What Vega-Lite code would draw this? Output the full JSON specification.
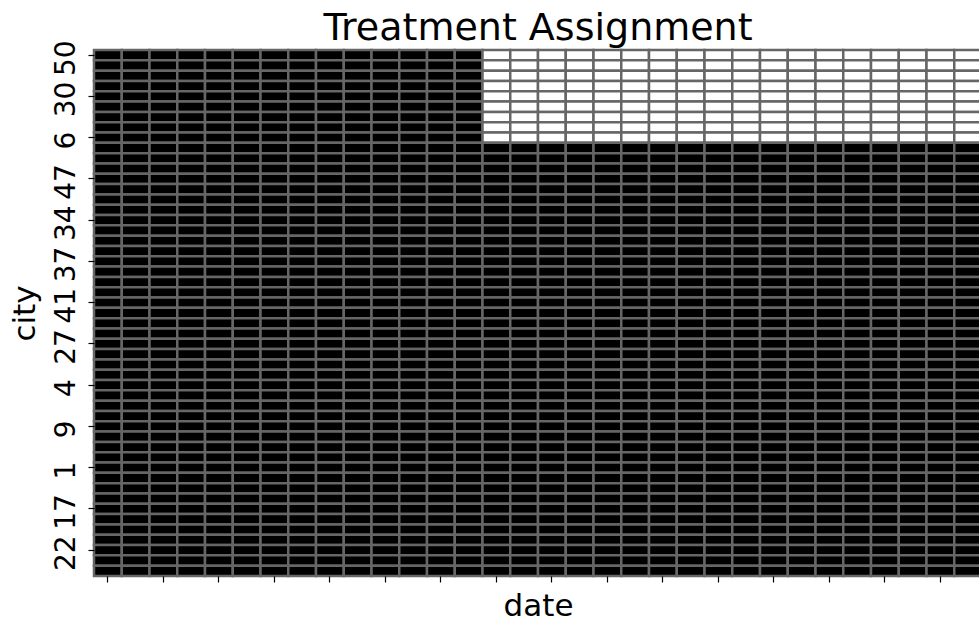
{"$schema":"https://vega.github.io/schema/vega-lite/v6.json","width":888,"height":526,"autosize":{"type":"none"},"padding":{"left":94,"top":50,"right":0,"bottom":45},"background":"white","config":{"view":{"stroke":null},"font":"DejaVu Sans"},"title":{"text":"Treatment Assignment","fontSize":38,"font":"DejaVu Sans","fontWeight":"normal","color":"#000000","anchor":"middle","frame":"group","baseline":"alphabetic","offset":-38},"data":{"values":[
{"city":50,"date":0,"treated":0},{"city":50,"date":1,"treated":0},{"city":50,"date":2,"treated":0},{"city":50,"date":3,"treated":0},{"city":50,"date":4,"treated":0},{"city":50,"date":5,"treated":0},{"city":50,"date":6,"treated":0},{"city":50,"date":7,"treated":0},{"city":50,"date":8,"treated":0},{"city":50,"date":9,"treated":0},{"city":50,"date":10,"treated":0},{"city":50,"date":11,"treated":0},{"city":50,"date":12,"treated":0},{"city":50,"date":13,"treated":0},{"city":50,"date":14,"treated":1},{"city":50,"date":15,"treated":1},{"city":50,"date":16,"treated":1},{"city":50,"date":17,"treated":1},{"city":50,"date":18,"treated":1},{"city":50,"date":19,"treated":1},{"city":50,"date":20,"treated":1},{"city":50,"date":21,"treated":1},{"city":50,"date":22,"treated":1},{"city":50,"date":23,"treated":1},{"city":50,"date":24,"treated":1},{"city":50,"date":25,"treated":1},{"city":50,"date":26,"treated":1},{"city":50,"date":27,"treated":1},{"city":50,"date":28,"treated":1},{"city":50,"date":29,"treated":1},{"city":50,"date":30,"treated":1},{"city":50,"date":31,"treated":1},
{"city":0,"date":0,"treated":0},{"city":0,"date":1,"treated":0},{"city":0,"date":2,"treated":0},{"city":0,"date":3,"treated":0},{"city":0,"date":4,"treated":0},{"city":0,"date":5,"treated":0},{"city":0,"date":6,"treated":0},{"city":0,"date":7,"treated":0},{"city":0,"date":8,"treated":0},{"city":0,"date":9,"treated":0},{"city":0,"date":10,"treated":0},{"city":0,"date":11,"treated":0},{"city":0,"date":12,"treated":0},{"city":0,"date":13,"treated":0},{"city":0,"date":14,"treated":1},{"city":0,"date":15,"treated":1},{"city":0,"date":16,"treated":1},{"city":0,"date":17,"treated":1},{"city":0,"date":18,"treated":1},{"city":0,"date":19,"treated":1},{"city":0,"date":20,"treated":1},{"city":0,"date":21,"treated":1},{"city":0,"date":22,"treated":1},{"city":0,"date":23,"treated":1},{"city":0,"date":24,"treated":1},{"city":0,"date":25,"treated":1},{"city":0,"date":26,"treated":1},{"city":0,"date":27,"treated":1},{"city":0,"date":28,"treated":1},{"city":0,"date":29,"treated":1},{"city":0,"date":30,"treated":1},{"city":0,"date":31,"treated":1},
{"city":2,"date":0,"treated":0},{"city":2,"date":1,"treated":0},{"city":2,"date":2,"treated":0},{"city":2,"date":3,"treated":0},{"city":2,"date":4,"treated":0},{"city":2,"date":5,"treated":0},{"city":2,"date":6,"treated":0},{"city":2,"date":7,"treated":0},{"city":2,"date":8,"treated":0},{"city":2,"date":9,"treated":0},{"city":2,"date":10,"treated":0},{"city":2,"date":11,"treated":0},{"city":2,"date":12,"treated":0},{"city":2,"date":13,"treated":0},{"city":2,"date":14,"treated":1},{"city":2,"date":15,"treated":1},{"city":2,"date":16,"treated":1},{"city":2,"date":17,"treated":1},{"city":2,"date":18,"treated":1},{"city":2,"date":19,"treated":1},{"city":2,"date":20,"treated":1},{"city":2,"date":21,"treated":1},{"city":2,"date":22,"treated":1},{"city":2,"date":23,"treated":1},{"city":2,"date":24,"treated":1},{"city":2,"date":25,"treated":1},{"city":2,"date":26,"treated":1},{"city":2,"date":27,"treated":1},{"city":2,"date":28,"treated":1},{"city":2,"date":29,"treated":1},{"city":2,"date":30,"treated":1},{"city":2,"date":31,"treated":1},
{"city":3,"date":0,"treated":0},{"city":3,"date":1,"treated":0},{"city":3,"date":2,"treated":0},{"city":3,"date":3,"treated":0},{"city":3,"date":4,"treated":0},{"city":3,"date":5,"treated":0},{"city":3,"date":6,"treated":0},{"city":3,"date":7,"treated":0},{"city":3,"date":8,"treated":0},{"city":3,"date":9,"treated":0},{"city":3,"date":10,"treated":0},{"city":3,"date":11,"treated":0},{"city":3,"date":12,"treated":0},{"city":3,"date":13,"treated":0},{"city":3,"date":14,"treated":1},{"city":3,"date":15,"treated":1},{"city":3,"date":16,"treated":1},{"city":3,"date":17,"treated":1},{"city":3,"date":18,"treated":1},{"city":3,"date":19,"treated":1},{"city":3,"date":20,"treated":1},{"city":3,"date":21,"treated":1},{"city":3,"date":22,"treated":1},{"city":3,"date":23,"treated":1},{"city":3,"date":24,"treated":1},{"city":3,"date":25,"treated":1},{"city":3,"date":26,"treated":1},{"city":3,"date":27,"treated":1},{"city":3,"date":28,"treated":1},{"city":3,"date":29,"treated":1},{"city":3,"date":30,"treated":1},{"city":3,"date":31,"treated":1},
{"city":30,"date":0,"treated":0},{"city":30,"date":1,"treated":0},{"city":30,"date":2,"treated":0},{"city":30,"date":3,"treated":0},{"city":30,"date":4,"treated":0},{"city":30,"date":5,"treated":0},{"city":30,"date":6,"treated":0},{"city":30,"date":7,"treated":0},{"city":30,"date":8,"treated":0},{"city":30,"date":9,"treated":0},{"city":30,"date":10,"treated":0},{"city":30,"date":11,"treated":0},{"city":30,"date":12,"treated":0},{"city":30,"date":13,"treated":0},{"city":30,"date":14,"treated":1},{"city":30,"date":15,"treated":1},{"city":30,"date":16,"treated":1},{"city":30,"date":17,"treated":1},{"city":30,"date":18,"treated":1},{"city":30,"date":19,"treated":1},{"city":30,"date":20,"treated":1},{"city":30,"date":21,"treated":1},{"city":30,"date":22,"treated":1},{"city":30,"date":23,"treated":1},{"city":30,"date":24,"treated":1},{"city":30,"date":25,"treated":1},{"city":30,"date":26,"treated":1},{"city":30,"date":27,"treated":1},{"city":30,"date":28,"treated":1},{"city":30,"date":29,"treated":1},{"city":30,"date":30,"treated":1},{"city":30,"date":31,"treated":1},
{"city":5,"date":0,"treated":0},{"city":5,"date":1,"treated":0},{"city":5,"date":2,"treated":0},{"city":5,"date":3,"treated":0},{"city":5,"date":4,"treated":0},{"city":5,"date":5,"treated":0},{"city":5,"date":6,"treated":0},{"city":5,"date":7,"treated":0},{"city":5,"date":8,"treated":0},{"city":5,"date":9,"treated":0},{"city":5,"date":10,"treated":0},{"city":5,"date":11,"treated":0},{"city":5,"date":12,"treated":0},{"city":5,"date":13,"treated":0},{"city":5,"date":14,"treated":1},{"city":5,"date":15,"treated":1},{"city":5,"date":16,"treated":1},{"city":5,"date":17,"treated":1},{"city":5,"date":18,"treated":1},{"city":5,"date":19,"treated":1},{"city":5,"date":20,"treated":1},{"city":5,"date":21,"treated":1},{"city":5,"date":22,"treated":1},{"city":5,"date":23,"treated":1},{"city":5,"date":24,"treated":1},{"city":5,"date":25,"treated":1},{"city":5,"date":26,"treated":1},{"city":5,"date":27,"treated":1},{"city":5,"date":28,"treated":1},{"city":5,"date":29,"treated":1},{"city":5,"date":30,"treated":1},{"city":5,"date":31,"treated":1},
{"city":7,"date":0,"treated":0},{"city":7,"date":1,"treated":0},{"city":7,"date":2,"treated":0},{"city":7,"date":3,"treated":0},{"city":7,"date":4,"treated":0},{"city":7,"date":5,"treated":0},{"city":7,"date":6,"treated":0},{"city":7,"date":7,"treated":0},{"city":7,"date":8,"treated":0},{"city":7,"date":9,"treated":0},{"city":7,"date":10,"treated":0},{"city":7,"date":11,"treated":0},{"city":7,"date":12,"treated":0},{"city":7,"date":13,"treated":0},{"city":7,"date":14,"treated":1},{"city":7,"date":15,"treated":1},{"city":7,"date":16,"treated":1},{"city":7,"date":17,"treated":1},{"city":7,"date":18,"treated":1},{"city":7,"date":19,"treated":1},{"city":7,"date":20,"treated":1},{"city":7,"date":21,"treated":1},{"city":7,"date":22,"treated":1},{"city":7,"date":23,"treated":1},{"city":7,"date":24,"treated":1},{"city":7,"date":25,"treated":1},{"city":7,"date":26,"treated":1},{"city":7,"date":27,"treated":1},{"city":7,"date":28,"treated":1},{"city":7,"date":29,"treated":1},{"city":7,"date":30,"treated":1},{"city":7,"date":31,"treated":1},
{"city":8,"date":0,"treated":0},{"city":8,"date":1,"treated":0},{"city":8,"date":2,"treated":0},{"city":8,"date":3,"treated":0},{"city":8,"date":4,"treated":0},{"city":8,"date":5,"treated":0},{"city":8,"date":6,"treated":0},{"city":8,"date":7,"treated":0},{"city":8,"date":8,"treated":0},{"city":8,"date":9,"treated":0},{"city":8,"date":10,"treated":0},{"city":8,"date":11,"treated":0},{"city":8,"date":12,"treated":0},{"city":8,"date":13,"treated":0},{"city":8,"date":14,"treated":1},{"city":8,"date":15,"treated":1},{"city":8,"date":16,"treated":1},{"city":8,"date":17,"treated":1},{"city":8,"date":18,"treated":1},{"city":8,"date":19,"treated":1},{"city":8,"date":20,"treated":1},{"city":8,"date":21,"treated":1},{"city":8,"date":22,"treated":1},{"city":8,"date":23,"treated":1},{"city":8,"date":24,"treated":1},{"city":8,"date":25,"treated":1},{"city":8,"date":26,"treated":1},{"city":8,"date":27,"treated":1},{"city":8,"date":28,"treated":1},{"city":8,"date":29,"treated":1},{"city":8,"date":30,"treated":1},{"city":8,"date":31,"treated":1},
{"city":6,"date":0,"treated":0},{"city":6,"date":1,"treated":0},{"city":6,"date":2,"treated":0},{"city":6,"date":3,"treated":0},{"city":6,"date":4,"treated":0},{"city":6,"date":5,"treated":0},{"city":6,"date":6,"treated":0},{"city":6,"date":7,"treated":0},{"city":6,"date":8,"treated":0},{"city":6,"date":9,"treated":0},{"city":6,"date":10,"treated":0},{"city":6,"date":11,"treated":0},{"city":6,"date":12,"treated":0},{"city":6,"date":13,"treated":0},{"city":6,"date":14,"treated":1},{"city":6,"date":15,"treated":1},{"city":6,"date":16,"treated":1},{"city":6,"date":17,"treated":1},{"city":6,"date":18,"treated":1},{"city":6,"date":19,"treated":1},{"city":6,"date":20,"treated":1},{"city":6,"date":21,"treated":1},{"city":6,"date":22,"treated":1},{"city":6,"date":23,"treated":1},{"city":6,"date":24,"treated":1},{"city":6,"date":25,"treated":1},{"city":6,"date":26,"treated":1},{"city":6,"date":27,"treated":1},{"city":6,"date":28,"treated":1},{"city":6,"date":29,"treated":1},{"city":6,"date":30,"treated":1},{"city":6,"date":31,"treated":1},
{"city":10,"date":0,"treated":0},{"city":10,"date":1,"treated":0},{"city":10,"date":2,"treated":0},{"city":10,"date":3,"treated":0},{"city":10,"date":4,"treated":0},{"city":10,"date":5,"treated":0},{"city":10,"date":6,"treated":0},{"city":10,"date":7,"treated":0},{"city":10,"date":8,"treated":0},{"city":10,"date":9,"treated":0},{"city":10,"date":10,"treated":0},{"city":10,"date":11,"treated":0},{"city":10,"date":12,"treated":0},{"city":10,"date":13,"treated":0},{"city":10,"date":14,"treated":0},{"city":10,"date":15,"treated":0},{"city":10,"date":16,"treated":0},{"city":10,"date":17,"treated":0},{"city":10,"date":18,"treated":0},{"city":10,"date":19,"treated":0},{"city":10,"date":20,"treated":0},{"city":10,"date":21,"treated":0},{"city":10,"date":22,"treated":0},{"city":10,"date":23,"treated":0},{"city":10,"date":24,"treated":0},{"city":10,"date":25,"treated":0},{"city":10,"date":26,"treated":0},{"city":10,"date":27,"treated":0},{"city":10,"date":28,"treated":0},{"city":10,"date":29,"treated":0},{"city":10,"date":30,"treated":0},{"city":10,"date":31,"treated":0},
{"city":11,"date":0,"treated":0},{"city":11,"date":1,"treated":0},{"city":11,"date":2,"treated":0},{"city":11,"date":3,"treated":0},{"city":11,"date":4,"treated":0},{"city":11,"date":5,"treated":0},{"city":11,"date":6,"treated":0},{"city":11,"date":7,"treated":0},{"city":11,"date":8,"treated":0},{"city":11,"date":9,"treated":0},{"city":11,"date":10,"treated":0},{"city":11,"date":11,"treated":0},{"city":11,"date":12,"treated":0},{"city":11,"date":13,"treated":0},{"city":11,"date":14,"treated":0},{"city":11,"date":15,"treated":0},{"city":11,"date":16,"treated":0},{"city":11,"date":17,"treated":0},{"city":11,"date":18,"treated":0},{"city":11,"date":19,"treated":0},{"city":11,"date":20,"treated":0},{"city":11,"date":21,"treated":0},{"city":11,"date":22,"treated":0},{"city":11,"date":23,"treated":0},{"city":11,"date":24,"treated":0},{"city":11,"date":25,"treated":0},{"city":11,"date":26,"treated":0},{"city":11,"date":27,"treated":0},{"city":11,"date":28,"treated":0},{"city":11,"date":29,"treated":0},{"city":11,"date":30,"treated":0},{"city":11,"date":31,"treated":0},
{"city":12,"date":0,"treated":0},{"city":12,"date":1,"treated":0},{"city":12,"date":2,"treated":0},{"city":12,"date":3,"treated":0},{"city":12,"date":4,"treated":0},{"city":12,"date":5,"treated":0},{"city":12,"date":6,"treated":0},{"city":12,"date":7,"treated":0},{"city":12,"date":8,"treated":0},{"city":12,"date":9,"treated":0},{"city":12,"date":10,"treated":0},{"city":12,"date":11,"treated":0},{"city":12,"date":12,"treated":0},{"city":12,"date":13,"treated":0},{"city":12,"date":14,"treated":0},{"city":12,"date":15,"treated":0},{"city":12,"date":16,"treated":0},{"city":12,"date":17,"treated":0},{"city":12,"date":18,"treated":0},{"city":12,"date":19,"treated":0},{"city":12,"date":20,"treated":0},{"city":12,"date":21,"treated":0},{"city":12,"date":22,"treated":0},{"city":12,"date":23,"treated":0},{"city":12,"date":24,"treated":0},{"city":12,"date":25,"treated":0},{"city":12,"date":26,"treated":0},{"city":12,"date":27,"treated":0},{"city":12,"date":28,"treated":0},{"city":12,"date":29,"treated":0},{"city":12,"date":30,"treated":0},{"city":12,"date":31,"treated":0},
{"city":47,"date":0,"treated":0},{"city":47,"date":1,"treated":0},{"city":47,"date":2,"treated":0},{"city":47,"date":3,"treated":0},{"city":47,"date":4,"treated":0},{"city":47,"date":5,"treated":0},{"city":47,"date":6,"treated":0},{"city":47,"date":7,"treated":0},{"city":47,"date":8,"treated":0},{"city":47,"date":9,"treated":0},{"city":47,"date":10,"treated":0},{"city":47,"date":11,"treated":0},{"city":47,"date":12,"treated":0},{"city":47,"date":13,"treated":0},{"city":47,"date":14,"treated":0},{"city":47,"date":15,"treated":0},{"city":47,"date":16,"treated":0},{"city":47,"date":17,"treated":0},{"city":47,"date":18,"treated":0},{"city":47,"date":19,"treated":0},{"city":47,"date":20,"treated":0},{"city":47,"date":21,"treated":0},{"city":47,"date":22,"treated":0},{"city":47,"date":23,"treated":0},{"city":47,"date":24,"treated":0},{"city":47,"date":25,"treated":0},{"city":47,"date":26,"treated":0},{"city":47,"date":27,"treated":0},{"city":47,"date":28,"treated":0},{"city":47,"date":29,"treated":0},{"city":47,"date":30,"treated":0},{"city":47,"date":31,"treated":0},
{"city":13,"date":0,"treated":0},{"city":13,"date":1,"treated":0},{"city":13,"date":2,"treated":0},{"city":13,"date":3,"treated":0},{"city":13,"date":4,"treated":0},{"city":13,"date":5,"treated":0},{"city":13,"date":6,"treated":0},{"city":13,"date":7,"treated":0},{"city":13,"date":8,"treated":0},{"city":13,"date":9,"treated":0},{"city":13,"date":10,"treated":0},{"city":13,"date":11,"treated":0},{"city":13,"date":12,"treated":0},{"city":13,"date":13,"treated":0},{"city":13,"date":14,"treated":0},{"city":13,"date":15,"treated":0},{"city":13,"date":16,"treated":0},{"city":13,"date":17,"treated":0},{"city":13,"date":18,"treated":0},{"city":13,"date":19,"treated":0},{"city":13,"date":20,"treated":0},{"city":13,"date":21,"treated":0},{"city":13,"date":22,"treated":0},{"city":13,"date":23,"treated":0},{"city":13,"date":24,"treated":0},{"city":13,"date":25,"treated":0},{"city":13,"date":26,"treated":0},{"city":13,"date":27,"treated":0},{"city":13,"date":28,"treated":0},{"city":13,"date":29,"treated":0},{"city":13,"date":30,"treated":0},{"city":13,"date":31,"treated":0},
{"city":14,"date":0,"treated":0},{"city":14,"date":1,"treated":0},{"city":14,"date":2,"treated":0},{"city":14,"date":3,"treated":0},{"city":14,"date":4,"treated":0},{"city":14,"date":5,"treated":0},{"city":14,"date":6,"treated":0},{"city":14,"date":7,"treated":0},{"city":14,"date":8,"treated":0},{"city":14,"date":9,"treated":0},{"city":14,"date":10,"treated":0},{"city":14,"date":11,"treated":0},{"city":14,"date":12,"treated":0},{"city":14,"date":13,"treated":0},{"city":14,"date":14,"treated":0},{"city":14,"date":15,"treated":0},{"city":14,"date":16,"treated":0},{"city":14,"date":17,"treated":0},{"city":14,"date":18,"treated":0},{"city":14,"date":19,"treated":0},{"city":14,"date":20,"treated":0},{"city":14,"date":21,"treated":0},{"city":14,"date":22,"treated":0},{"city":14,"date":23,"treated":0},{"city":14,"date":24,"treated":0},{"city":14,"date":25,"treated":0},{"city":14,"date":26,"treated":0},{"city":14,"date":27,"treated":0},{"city":14,"date":28,"treated":0},{"city":14,"date":29,"treated":0},{"city":14,"date":30,"treated":0},{"city":14,"date":31,"treated":0},
{"city":15,"date":0,"treated":0},{"city":15,"date":1,"treated":0},{"city":15,"date":2,"treated":0},{"city":15,"date":3,"treated":0},{"city":15,"date":4,"treated":0},{"city":15,"date":5,"treated":0},{"city":15,"date":6,"treated":0},{"city":15,"date":7,"treated":0},{"city":15,"date":8,"treated":0},{"city":15,"date":9,"treated":0},{"city":15,"date":10,"treated":0},{"city":15,"date":11,"treated":0},{"city":15,"date":12,"treated":0},{"city":15,"date":13,"treated":0},{"city":15,"date":14,"treated":0},{"city":15,"date":15,"treated":0},{"city":15,"date":16,"treated":0},{"city":15,"date":17,"treated":0},{"city":15,"date":18,"treated":0},{"city":15,"date":19,"treated":0},{"city":15,"date":20,"treated":0},{"city":15,"date":21,"treated":0},{"city":15,"date":22,"treated":0},{"city":15,"date":23,"treated":0},{"city":15,"date":24,"treated":0},{"city":15,"date":25,"treated":0},{"city":15,"date":26,"treated":0},{"city":15,"date":27,"treated":0},{"city":15,"date":28,"treated":0},{"city":15,"date":29,"treated":0},{"city":15,"date":30,"treated":0},{"city":15,"date":31,"treated":0},
{"city":34,"date":0,"treated":0},{"city":34,"date":1,"treated":0},{"city":34,"date":2,"treated":0},{"city":34,"date":3,"treated":0},{"city":34,"date":4,"treated":0},{"city":34,"date":5,"treated":0},{"city":34,"date":6,"treated":0},{"city":34,"date":7,"treated":0},{"city":34,"date":8,"treated":0},{"city":34,"date":9,"treated":0},{"city":34,"date":10,"treated":0},{"city":34,"date":11,"treated":0},{"city":34,"date":12,"treated":0},{"city":34,"date":13,"treated":0},{"city":34,"date":14,"treated":0},{"city":34,"date":15,"treated":0},{"city":34,"date":16,"treated":0},{"city":34,"date":17,"treated":0},{"city":34,"date":18,"treated":0},{"city":34,"date":19,"treated":0},{"city":34,"date":20,"treated":0},{"city":34,"date":21,"treated":0},{"city":34,"date":22,"treated":0},{"city":34,"date":23,"treated":0},{"city":34,"date":24,"treated":0},{"city":34,"date":25,"treated":0},{"city":34,"date":26,"treated":0},{"city":34,"date":27,"treated":0},{"city":34,"date":28,"treated":0},{"city":34,"date":29,"treated":0},{"city":34,"date":30,"treated":0},{"city":34,"date":31,"treated":0},
{"city":16,"date":0,"treated":0},{"city":16,"date":1,"treated":0},{"city":16,"date":2,"treated":0},{"city":16,"date":3,"treated":0},{"city":16,"date":4,"treated":0},{"city":16,"date":5,"treated":0},{"city":16,"date":6,"treated":0},{"city":16,"date":7,"treated":0},{"city":16,"date":8,"treated":0},{"city":16,"date":9,"treated":0},{"city":16,"date":10,"treated":0},{"city":16,"date":11,"treated":0},{"city":16,"date":12,"treated":0},{"city":16,"date":13,"treated":0},{"city":16,"date":14,"treated":0},{"city":16,"date":15,"treated":0},{"city":16,"date":16,"treated":0},{"city":16,"date":17,"treated":0},{"city":16,"date":18,"treated":0},{"city":16,"date":19,"treated":0},{"city":16,"date":20,"treated":0},{"city":16,"date":21,"treated":0},{"city":16,"date":22,"treated":0},{"city":16,"date":23,"treated":0},{"city":16,"date":24,"treated":0},{"city":16,"date":25,"treated":0},{"city":16,"date":26,"treated":0},{"city":16,"date":27,"treated":0},{"city":16,"date":28,"treated":0},{"city":16,"date":29,"treated":0},{"city":16,"date":30,"treated":0},{"city":16,"date":31,"treated":0},
{"city":18,"date":0,"treated":0},{"city":18,"date":1,"treated":0},{"city":18,"date":2,"treated":0},{"city":18,"date":3,"treated":0},{"city":18,"date":4,"treated":0},{"city":18,"date":5,"treated":0},{"city":18,"date":6,"treated":0},{"city":18,"date":7,"treated":0},{"city":18,"date":8,"treated":0},{"city":18,"date":9,"treated":0},{"city":18,"date":10,"treated":0},{"city":18,"date":11,"treated":0},{"city":18,"date":12,"treated":0},{"city":18,"date":13,"treated":0},{"city":18,"date":14,"treated":0},{"city":18,"date":15,"treated":0},{"city":18,"date":16,"treated":0},{"city":18,"date":17,"treated":0},{"city":18,"date":18,"treated":0},{"city":18,"date":19,"treated":0},{"city":18,"date":20,"treated":0},{"city":18,"date":21,"treated":0},{"city":18,"date":22,"treated":0},{"city":18,"date":23,"treated":0},{"city":18,"date":24,"treated":0},{"city":18,"date":25,"treated":0},{"city":18,"date":26,"treated":0},{"city":18,"date":27,"treated":0},{"city":18,"date":28,"treated":0},{"city":18,"date":29,"treated":0},{"city":18,"date":30,"treated":0},{"city":18,"date":31,"treated":0},
{"city":19,"date":0,"treated":0},{"city":19,"date":1,"treated":0},{"city":19,"date":2,"treated":0},{"city":19,"date":3,"treated":0},{"city":19,"date":4,"treated":0},{"city":19,"date":5,"treated":0},{"city":19,"date":6,"treated":0},{"city":19,"date":7,"treated":0},{"city":19,"date":8,"treated":0},{"city":19,"date":9,"treated":0},{"city":19,"date":10,"treated":0},{"city":19,"date":11,"treated":0},{"city":19,"date":12,"treated":0},{"city":19,"date":13,"treated":0},{"city":19,"date":14,"treated":0},{"city":19,"date":15,"treated":0},{"city":19,"date":16,"treated":0},{"city":19,"date":17,"treated":0},{"city":19,"date":18,"treated":0},{"city":19,"date":19,"treated":0},{"city":19,"date":20,"treated":0},{"city":19,"date":21,"treated":0},{"city":19,"date":22,"treated":0},{"city":19,"date":23,"treated":0},{"city":19,"date":24,"treated":0},{"city":19,"date":25,"treated":0},{"city":19,"date":26,"treated":0},{"city":19,"date":27,"treated":0},{"city":19,"date":28,"treated":0},{"city":19,"date":29,"treated":0},{"city":19,"date":30,"treated":0},{"city":19,"date":31,"treated":0},
{"city":37,"date":0,"treated":0},{"city":37,"date":1,"treated":0},{"city":37,"date":2,"treated":0},{"city":37,"date":3,"treated":0},{"city":37,"date":4,"treated":0},{"city":37,"date":5,"treated":0},{"city":37,"date":6,"treated":0},{"city":37,"date":7,"treated":0},{"city":37,"date":8,"treated":0},{"city":37,"date":9,"treated":0},{"city":37,"date":10,"treated":0},{"city":37,"date":11,"treated":0},{"city":37,"date":12,"treated":0},{"city":37,"date":13,"treated":0},{"city":37,"date":14,"treated":0},{"city":37,"date":15,"treated":0},{"city":37,"date":16,"treated":0},{"city":37,"date":17,"treated":0},{"city":37,"date":18,"treated":0},{"city":37,"date":19,"treated":0},{"city":37,"date":20,"treated":0},{"city":37,"date":21,"treated":0},{"city":37,"date":22,"treated":0},{"city":37,"date":23,"treated":0},{"city":37,"date":24,"treated":0},{"city":37,"date":25,"treated":0},{"city":37,"date":26,"treated":0},{"city":37,"date":27,"treated":0},{"city":37,"date":28,"treated":0},{"city":37,"date":29,"treated":0},{"city":37,"date":30,"treated":0},{"city":37,"date":31,"treated":0},
{"city":20,"date":0,"treated":0},{"city":20,"date":1,"treated":0},{"city":20,"date":2,"treated":0},{"city":20,"date":3,"treated":0},{"city":20,"date":4,"treated":0},{"city":20,"date":5,"treated":0},{"city":20,"date":6,"treated":0},{"city":20,"date":7,"treated":0},{"city":20,"date":8,"treated":0},{"city":20,"date":9,"treated":0},{"city":20,"date":10,"treated":0},{"city":20,"date":11,"treated":0},{"city":20,"date":12,"treated":0},{"city":20,"date":13,"treated":0},{"city":20,"date":14,"treated":0},{"city":20,"date":15,"treated":0},{"city":20,"date":16,"treated":0},{"city":20,"date":17,"treated":0},{"city":20,"date":18,"treated":0},{"city":20,"date":19,"treated":0},{"city":20,"date":20,"treated":0},{"city":20,"date":21,"treated":0},{"city":20,"date":22,"treated":0},{"city":20,"date":23,"treated":0},{"city":20,"date":24,"treated":0},{"city":20,"date":25,"treated":0},{"city":20,"date":26,"treated":0},{"city":20,"date":27,"treated":0},{"city":20,"date":28,"treated":0},{"city":20,"date":29,"treated":0},{"city":20,"date":30,"treated":0},{"city":20,"date":31,"treated":0},
{"city":21,"date":0,"treated":0},{"city":21,"date":1,"treated":0},{"city":21,"date":2,"treated":0},{"city":21,"date":3,"treated":0},{"city":21,"date":4,"treated":0},{"city":21,"date":5,"treated":0},{"city":21,"date":6,"treated":0},{"city":21,"date":7,"treated":0},{"city":21,"date":8,"treated":0},{"city":21,"date":9,"treated":0},{"city":21,"date":10,"treated":0},{"city":21,"date":11,"treated":0},{"city":21,"date":12,"treated":0},{"city":21,"date":13,"treated":0},{"city":21,"date":14,"treated":0},{"city":21,"date":15,"treated":0},{"city":21,"date":16,"treated":0},{"city":21,"date":17,"treated":0},{"city":21,"date":18,"treated":0},{"city":21,"date":19,"treated":0},{"city":21,"date":20,"treated":0},{"city":21,"date":21,"treated":0},{"city":21,"date":22,"treated":0},{"city":21,"date":23,"treated":0},{"city":21,"date":24,"treated":0},{"city":21,"date":25,"treated":0},{"city":21,"date":26,"treated":0},{"city":21,"date":27,"treated":0},{"city":21,"date":28,"treated":0},{"city":21,"date":29,"treated":0},{"city":21,"date":30,"treated":0},{"city":21,"date":31,"treated":0},
{"city":23,"date":0,"treated":0},{"city":23,"date":1,"treated":0},{"city":23,"date":2,"treated":0},{"city":23,"date":3,"treated":0},{"city":23,"date":4,"treated":0},{"city":23,"date":5,"treated":0},{"city":23,"date":6,"treated":0},{"city":23,"date":7,"treated":0},{"city":23,"date":8,"treated":0},{"city":23,"date":9,"treated":0},{"city":23,"date":10,"treated":0},{"city":23,"date":11,"treated":0},{"city":23,"date":12,"treated":0},{"city":23,"date":13,"treated":0},{"city":23,"date":14,"treated":0},{"city":23,"date":15,"treated":0},{"city":23,"date":16,"treated":0},{"city":23,"date":17,"treated":0},{"city":23,"date":18,"treated":0},{"city":23,"date":19,"treated":0},{"city":23,"date":20,"treated":0},{"city":23,"date":21,"treated":0},{"city":23,"date":22,"treated":0},{"city":23,"date":23,"treated":0},{"city":23,"date":24,"treated":0},{"city":23,"date":25,"treated":0},{"city":23,"date":26,"treated":0},{"city":23,"date":27,"treated":0},{"city":23,"date":28,"treated":0},{"city":23,"date":29,"treated":0},{"city":23,"date":30,"treated":0},{"city":23,"date":31,"treated":0},
{"city":41,"date":0,"treated":0},{"city":41,"date":1,"treated":0},{"city":41,"date":2,"treated":0},{"city":41,"date":3,"treated":0},{"city":41,"date":4,"treated":0},{"city":41,"date":5,"treated":0},{"city":41,"date":6,"treated":0},{"city":41,"date":7,"treated":0},{"city":41,"date":8,"treated":0},{"city":41,"date":9,"treated":0},{"city":41,"date":10,"treated":0},{"city":41,"date":11,"treated":0},{"city":41,"date":12,"treated":0},{"city":41,"date":13,"treated":0},{"city":41,"date":14,"treated":0},{"city":41,"date":15,"treated":0},{"city":41,"date":16,"treated":0},{"city":41,"date":17,"treated":0},{"city":41,"date":18,"treated":0},{"city":41,"date":19,"treated":0},{"city":41,"date":20,"treated":0},{"city":41,"date":21,"treated":0},{"city":41,"date":22,"treated":0},{"city":41,"date":23,"treated":0},{"city":41,"date":24,"treated":0},{"city":41,"date":25,"treated":0},{"city":41,"date":26,"treated":0},{"city":41,"date":27,"treated":0},{"city":41,"date":28,"treated":0},{"city":41,"date":29,"treated":0},{"city":41,"date":30,"treated":0},{"city":41,"date":31,"treated":0},
{"city":24,"date":0,"treated":0},{"city":24,"date":1,"treated":0},{"city":24,"date":2,"treated":0},{"city":24,"date":3,"treated":0},{"city":24,"date":4,"treated":0},{"city":24,"date":5,"treated":0},{"city":24,"date":6,"treated":0},{"city":24,"date":7,"treated":0},{"city":24,"date":8,"treated":0},{"city":24,"date":9,"treated":0},{"city":24,"date":10,"treated":0},{"city":24,"date":11,"treated":0},{"city":24,"date":12,"treated":0},{"city":24,"date":13,"treated":0},{"city":24,"date":14,"treated":0},{"city":24,"date":15,"treated":0},{"city":24,"date":16,"treated":0},{"city":24,"date":17,"treated":0},{"city":24,"date":18,"treated":0},{"city":24,"date":19,"treated":0},{"city":24,"date":20,"treated":0},{"city":24,"date":21,"treated":0},{"city":24,"date":22,"treated":0},{"city":24,"date":23,"treated":0},{"city":24,"date":24,"treated":0},{"city":24,"date":25,"treated":0},{"city":24,"date":26,"treated":0},{"city":24,"date":27,"treated":0},{"city":24,"date":28,"treated":0},{"city":24,"date":29,"treated":0},{"city":24,"date":30,"treated":0},{"city":24,"date":31,"treated":0},
{"city":25,"date":0,"treated":0},{"city":25,"date":1,"treated":0},{"city":25,"date":2,"treated":0},{"city":25,"date":3,"treated":0},{"city":25,"date":4,"treated":0},{"city":25,"date":5,"treated":0},{"city":25,"date":6,"treated":0},{"city":25,"date":7,"treated":0},{"city":25,"date":8,"treated":0},{"city":25,"date":9,"treated":0},{"city":25,"date":10,"treated":0},{"city":25,"date":11,"treated":0},{"city":25,"date":12,"treated":0},{"city":25,"date":13,"treated":0},{"city":25,"date":14,"treated":0},{"city":25,"date":15,"treated":0},{"city":25,"date":16,"treated":0},{"city":25,"date":17,"treated":0},{"city":25,"date":18,"treated":0},{"city":25,"date":19,"treated":0},{"city":25,"date":20,"treated":0},{"city":25,"date":21,"treated":0},{"city":25,"date":22,"treated":0},{"city":25,"date":23,"treated":0},{"city":25,"date":24,"treated":0},{"city":25,"date":25,"treated":0},{"city":25,"date":26,"treated":0},{"city":25,"date":27,"treated":0},{"city":25,"date":28,"treated":0},{"city":25,"date":29,"treated":0},{"city":25,"date":30,"treated":0},{"city":25,"date":31,"treated":0},
{"city":26,"date":0,"treated":0},{"city":26,"date":1,"treated":0},{"city":26,"date":2,"treated":0},{"city":26,"date":3,"treated":0},{"city":26,"date":4,"treated":0},{"city":26,"date":5,"treated":0},{"city":26,"date":6,"treated":0},{"city":26,"date":7,"treated":0},{"city":26,"date":8,"treated":0},{"city":26,"date":9,"treated":0},{"city":26,"date":10,"treated":0},{"city":26,"date":11,"treated":0},{"city":26,"date":12,"treated":0},{"city":26,"date":13,"treated":0},{"city":26,"date":14,"treated":0},{"city":26,"date":15,"treated":0},{"city":26,"date":16,"treated":0},{"city":26,"date":17,"treated":0},{"city":26,"date":18,"treated":0},{"city":26,"date":19,"treated":0},{"city":26,"date":20,"treated":0},{"city":26,"date":21,"treated":0},{"city":26,"date":22,"treated":0},{"city":26,"date":23,"treated":0},{"city":26,"date":24,"treated":0},{"city":26,"date":25,"treated":0},{"city":26,"date":26,"treated":0},{"city":26,"date":27,"treated":0},{"city":26,"date":28,"treated":0},{"city":26,"date":29,"treated":0},{"city":26,"date":30,"treated":0},{"city":26,"date":31,"treated":0},
{"city":27,"date":0,"treated":0},{"city":27,"date":1,"treated":0},{"city":27,"date":2,"treated":0},{"city":27,"date":3,"treated":0},{"city":27,"date":4,"treated":0},{"city":27,"date":5,"treated":0},{"city":27,"date":6,"treated":0},{"city":27,"date":7,"treated":0},{"city":27,"date":8,"treated":0},{"city":27,"date":9,"treated":0},{"city":27,"date":10,"treated":0},{"city":27,"date":11,"treated":0},{"city":27,"date":12,"treated":0},{"city":27,"date":13,"treated":0},{"city":27,"date":14,"treated":0},{"city":27,"date":15,"treated":0},{"city":27,"date":16,"treated":0},{"city":27,"date":17,"treated":0},{"city":27,"date":18,"treated":0},{"city":27,"date":19,"treated":0},{"city":27,"date":20,"treated":0},{"city":27,"date":21,"treated":0},{"city":27,"date":22,"treated":0},{"city":27,"date":23,"treated":0},{"city":27,"date":24,"treated":0},{"city":27,"date":25,"treated":0},{"city":27,"date":26,"treated":0},{"city":27,"date":27,"treated":0},{"city":27,"date":28,"treated":0},{"city":27,"date":29,"treated":0},{"city":27,"date":30,"treated":0},{"city":27,"date":31,"treated":0},
{"city":28,"date":0,"treated":0},{"city":28,"date":1,"treated":0},{"city":28,"date":2,"treated":0},{"city":28,"date":3,"treated":0},{"city":28,"date":4,"treated":0},{"city":28,"date":5,"treated":0},{"city":28,"date":6,"treated":0},{"city":28,"date":7,"treated":0},{"city":28,"date":8,"treated":0},{"city":28,"date":9,"treated":0},{"city":28,"date":10,"treated":0},{"city":28,"date":11,"treated":0},{"city":28,"date":12,"treated":0},{"city":28,"date":13,"treated":0},{"city":28,"date":14,"treated":0},{"city":28,"date":15,"treated":0},{"city":28,"date":16,"treated":0},{"city":28,"date":17,"treated":0},{"city":28,"date":18,"treated":0},{"city":28,"date":19,"treated":0},{"city":28,"date":20,"treated":0},{"city":28,"date":21,"treated":0},{"city":28,"date":22,"treated":0},{"city":28,"date":23,"treated":0},{"city":28,"date":24,"treated":0},{"city":28,"date":25,"treated":0},{"city":28,"date":26,"treated":0},{"city":28,"date":27,"treated":0},{"city":28,"date":28,"treated":0},{"city":28,"date":29,"treated":0},{"city":28,"date":30,"treated":0},{"city":28,"date":31,"treated":0},
{"city":29,"date":0,"treated":0},{"city":29,"date":1,"treated":0},{"city":29,"date":2,"treated":0},{"city":29,"date":3,"treated":0},{"city":29,"date":4,"treated":0},{"city":29,"date":5,"treated":0},{"city":29,"date":6,"treated":0},{"city":29,"date":7,"treated":0},{"city":29,"date":8,"treated":0},{"city":29,"date":9,"treated":0},{"city":29,"date":10,"treated":0},{"city":29,"date":11,"treated":0},{"city":29,"date":12,"treated":0},{"city":29,"date":13,"treated":0},{"city":29,"date":14,"treated":0},{"city":29,"date":15,"treated":0},{"city":29,"date":16,"treated":0},{"city":29,"date":17,"treated":0},{"city":29,"date":18,"treated":0},{"city":29,"date":19,"treated":0},{"city":29,"date":20,"treated":0},{"city":29,"date":21,"treated":0},{"city":29,"date":22,"treated":0},{"city":29,"date":23,"treated":0},{"city":29,"date":24,"treated":0},{"city":29,"date":25,"treated":0},{"city":29,"date":26,"treated":0},{"city":29,"date":27,"treated":0},{"city":29,"date":28,"treated":0},{"city":29,"date":29,"treated":0},{"city":29,"date":30,"treated":0},{"city":29,"date":31,"treated":0},
{"city":31,"date":0,"treated":0},{"city":31,"date":1,"treated":0},{"city":31,"date":2,"treated":0},{"city":31,"date":3,"treated":0},{"city":31,"date":4,"treated":0},{"city":31,"date":5,"treated":0},{"city":31,"date":6,"treated":0},{"city":31,"date":7,"treated":0},{"city":31,"date":8,"treated":0},{"city":31,"date":9,"treated":0},{"city":31,"date":10,"treated":0},{"city":31,"date":11,"treated":0},{"city":31,"date":12,"treated":0},{"city":31,"date":13,"treated":0},{"city":31,"date":14,"treated":0},{"city":31,"date":15,"treated":0},{"city":31,"date":16,"treated":0},{"city":31,"date":17,"treated":0},{"city":31,"date":18,"treated":0},{"city":31,"date":19,"treated":0},{"city":31,"date":20,"treated":0},{"city":31,"date":21,"treated":0},{"city":31,"date":22,"treated":0},{"city":31,"date":23,"treated":0},{"city":31,"date":24,"treated":0},{"city":31,"date":25,"treated":0},{"city":31,"date":26,"treated":0},{"city":31,"date":27,"treated":0},{"city":31,"date":28,"treated":0},{"city":31,"date":29,"treated":0},{"city":31,"date":30,"treated":0},{"city":31,"date":31,"treated":0},
{"city":4,"date":0,"treated":0},{"city":4,"date":1,"treated":0},{"city":4,"date":2,"treated":0},{"city":4,"date":3,"treated":0},{"city":4,"date":4,"treated":0},{"city":4,"date":5,"treated":0},{"city":4,"date":6,"treated":0},{"city":4,"date":7,"treated":0},{"city":4,"date":8,"treated":0},{"city":4,"date":9,"treated":0},{"city":4,"date":10,"treated":0},{"city":4,"date":11,"treated":0},{"city":4,"date":12,"treated":0},{"city":4,"date":13,"treated":0},{"city":4,"date":14,"treated":0},{"city":4,"date":15,"treated":0},{"city":4,"date":16,"treated":0},{"city":4,"date":17,"treated":0},{"city":4,"date":18,"treated":0},{"city":4,"date":19,"treated":0},{"city":4,"date":20,"treated":0},{"city":4,"date":21,"treated":0},{"city":4,"date":22,"treated":0},{"city":4,"date":23,"treated":0},{"city":4,"date":24,"treated":0},{"city":4,"date":25,"treated":0},{"city":4,"date":26,"treated":0},{"city":4,"date":27,"treated":0},{"city":4,"date":28,"treated":0},{"city":4,"date":29,"treated":0},{"city":4,"date":30,"treated":0},{"city":4,"date":31,"treated":0},
{"city":32,"date":0,"treated":0},{"city":32,"date":1,"treated":0},{"city":32,"date":2,"treated":0},{"city":32,"date":3,"treated":0},{"city":32,"date":4,"treated":0},{"city":32,"date":5,"treated":0},{"city":32,"date":6,"treated":0},{"city":32,"date":7,"treated":0},{"city":32,"date":8,"treated":0},{"city":32,"date":9,"treated":0},{"city":32,"date":10,"treated":0},{"city":32,"date":11,"treated":0},{"city":32,"date":12,"treated":0},{"city":32,"date":13,"treated":0},{"city":32,"date":14,"treated":0},{"city":32,"date":15,"treated":0},{"city":32,"date":16,"treated":0},{"city":32,"date":17,"treated":0},{"city":32,"date":18,"treated":0},{"city":32,"date":19,"treated":0},{"city":32,"date":20,"treated":0},{"city":32,"date":21,"treated":0},{"city":32,"date":22,"treated":0},{"city":32,"date":23,"treated":0},{"city":32,"date":24,"treated":0},{"city":32,"date":25,"treated":0},{"city":32,"date":26,"treated":0},{"city":32,"date":27,"treated":0},{"city":32,"date":28,"treated":0},{"city":32,"date":29,"treated":0},{"city":32,"date":30,"treated":0},{"city":32,"date":31,"treated":0},
{"city":33,"date":0,"treated":0},{"city":33,"date":1,"treated":0},{"city":33,"date":2,"treated":0},{"city":33,"date":3,"treated":0},{"city":33,"date":4,"treated":0},{"city":33,"date":5,"treated":0},{"city":33,"date":6,"treated":0},{"city":33,"date":7,"treated":0},{"city":33,"date":8,"treated":0},{"city":33,"date":9,"treated":0},{"city":33,"date":10,"treated":0},{"city":33,"date":11,"treated":0},{"city":33,"date":12,"treated":0},{"city":33,"date":13,"treated":0},{"city":33,"date":14,"treated":0},{"city":33,"date":15,"treated":0},{"city":33,"date":16,"treated":0},{"city":33,"date":17,"treated":0},{"city":33,"date":18,"treated":0},{"city":33,"date":19,"treated":0},{"city":33,"date":20,"treated":0},{"city":33,"date":21,"treated":0},{"city":33,"date":22,"treated":0},{"city":33,"date":23,"treated":0},{"city":33,"date":24,"treated":0},{"city":33,"date":25,"treated":0},{"city":33,"date":26,"treated":0},{"city":33,"date":27,"treated":0},{"city":33,"date":28,"treated":0},{"city":33,"date":29,"treated":0},{"city":33,"date":30,"treated":0},{"city":33,"date":31,"treated":0},
{"city":35,"date":0,"treated":0},{"city":35,"date":1,"treated":0},{"city":35,"date":2,"treated":0},{"city":35,"date":3,"treated":0},{"city":35,"date":4,"treated":0},{"city":35,"date":5,"treated":0},{"city":35,"date":6,"treated":0},{"city":35,"date":7,"treated":0},{"city":35,"date":8,"treated":0},{"city":35,"date":9,"treated":0},{"city":35,"date":10,"treated":0},{"city":35,"date":11,"treated":0},{"city":35,"date":12,"treated":0},{"city":35,"date":13,"treated":0},{"city":35,"date":14,"treated":0},{"city":35,"date":15,"treated":0},{"city":35,"date":16,"treated":0},{"city":35,"date":17,"treated":0},{"city":35,"date":18,"treated":0},{"city":35,"date":19,"treated":0},{"city":35,"date":20,"treated":0},{"city":35,"date":21,"treated":0},{"city":35,"date":22,"treated":0},{"city":35,"date":23,"treated":0},{"city":35,"date":24,"treated":0},{"city":35,"date":25,"treated":0},{"city":35,"date":26,"treated":0},{"city":35,"date":27,"treated":0},{"city":35,"date":28,"treated":0},{"city":35,"date":29,"treated":0},{"city":35,"date":30,"treated":0},{"city":35,"date":31,"treated":0},
{"city":9,"date":0,"treated":0},{"city":9,"date":1,"treated":0},{"city":9,"date":2,"treated":0},{"city":9,"date":3,"treated":0},{"city":9,"date":4,"treated":0},{"city":9,"date":5,"treated":0},{"city":9,"date":6,"treated":0},{"city":9,"date":7,"treated":0},{"city":9,"date":8,"treated":0},{"city":9,"date":9,"treated":0},{"city":9,"date":10,"treated":0},{"city":9,"date":11,"treated":0},{"city":9,"date":12,"treated":0},{"city":9,"date":13,"treated":0},{"city":9,"date":14,"treated":0},{"city":9,"date":15,"treated":0},{"city":9,"date":16,"treated":0},{"city":9,"date":17,"treated":0},{"city":9,"date":18,"treated":0},{"city":9,"date":19,"treated":0},{"city":9,"date":20,"treated":0},{"city":9,"date":21,"treated":0},{"city":9,"date":22,"treated":0},{"city":9,"date":23,"treated":0},{"city":9,"date":24,"treated":0},{"city":9,"date":25,"treated":0},{"city":9,"date":26,"treated":0},{"city":9,"date":27,"treated":0},{"city":9,"date":28,"treated":0},{"city":9,"date":29,"treated":0},{"city":9,"date":30,"treated":0},{"city":9,"date":31,"treated":0},
{"city":36,"date":0,"treated":0},{"city":36,"date":1,"treated":0},{"city":36,"date":2,"treated":0},{"city":36,"date":3,"treated":0},{"city":36,"date":4,"treated":0},{"city":36,"date":5,"treated":0},{"city":36,"date":6,"treated":0},{"city":36,"date":7,"treated":0},{"city":36,"date":8,"treated":0},{"city":36,"date":9,"treated":0},{"city":36,"date":10,"treated":0},{"city":36,"date":11,"treated":0},{"city":36,"date":12,"treated":0},{"city":36,"date":13,"treated":0},{"city":36,"date":14,"treated":0},{"city":36,"date":15,"treated":0},{"city":36,"date":16,"treated":0},{"city":36,"date":17,"treated":0},{"city":36,"date":18,"treated":0},{"city":36,"date":19,"treated":0},{"city":36,"date":20,"treated":0},{"city":36,"date":21,"treated":0},{"city":36,"date":22,"treated":0},{"city":36,"date":23,"treated":0},{"city":36,"date":24,"treated":0},{"city":36,"date":25,"treated":0},{"city":36,"date":26,"treated":0},{"city":36,"date":27,"treated":0},{"city":36,"date":28,"treated":0},{"city":36,"date":29,"treated":0},{"city":36,"date":30,"treated":0},{"city":36,"date":31,"treated":0},
{"city":38,"date":0,"treated":0},{"city":38,"date":1,"treated":0},{"city":38,"date":2,"treated":0},{"city":38,"date":3,"treated":0},{"city":38,"date":4,"treated":0},{"city":38,"date":5,"treated":0},{"city":38,"date":6,"treated":0},{"city":38,"date":7,"treated":0},{"city":38,"date":8,"treated":0},{"city":38,"date":9,"treated":0},{"city":38,"date":10,"treated":0},{"city":38,"date":11,"treated":0},{"city":38,"date":12,"treated":0},{"city":38,"date":13,"treated":0},{"city":38,"date":14,"treated":0},{"city":38,"date":15,"treated":0},{"city":38,"date":16,"treated":0},{"city":38,"date":17,"treated":0},{"city":38,"date":18,"treated":0},{"city":38,"date":19,"treated":0},{"city":38,"date":20,"treated":0},{"city":38,"date":21,"treated":0},{"city":38,"date":22,"treated":0},{"city":38,"date":23,"treated":0},{"city":38,"date":24,"treated":0},{"city":38,"date":25,"treated":0},{"city":38,"date":26,"treated":0},{"city":38,"date":27,"treated":0},{"city":38,"date":28,"treated":0},{"city":38,"date":29,"treated":0},{"city":38,"date":30,"treated":0},{"city":38,"date":31,"treated":0},
{"city":39,"date":0,"treated":0},{"city":39,"date":1,"treated":0},{"city":39,"date":2,"treated":0},{"city":39,"date":3,"treated":0},{"city":39,"date":4,"treated":0},{"city":39,"date":5,"treated":0},{"city":39,"date":6,"treated":0},{"city":39,"date":7,"treated":0},{"city":39,"date":8,"treated":0},{"city":39,"date":9,"treated":0},{"city":39,"date":10,"treated":0},{"city":39,"date":11,"treated":0},{"city":39,"date":12,"treated":0},{"city":39,"date":13,"treated":0},{"city":39,"date":14,"treated":0},{"city":39,"date":15,"treated":0},{"city":39,"date":16,"treated":0},{"city":39,"date":17,"treated":0},{"city":39,"date":18,"treated":0},{"city":39,"date":19,"treated":0},{"city":39,"date":20,"treated":0},{"city":39,"date":21,"treated":0},{"city":39,"date":22,"treated":0},{"city":39,"date":23,"treated":0},{"city":39,"date":24,"treated":0},{"city":39,"date":25,"treated":0},{"city":39,"date":26,"treated":0},{"city":39,"date":27,"treated":0},{"city":39,"date":28,"treated":0},{"city":39,"date":29,"treated":0},{"city":39,"date":30,"treated":0},{"city":39,"date":31,"treated":0},
{"city":1,"date":0,"treated":0},{"city":1,"date":1,"treated":0},{"city":1,"date":2,"treated":0},{"city":1,"date":3,"treated":0},{"city":1,"date":4,"treated":0},{"city":1,"date":5,"treated":0},{"city":1,"date":6,"treated":0},{"city":1,"date":7,"treated":0},{"city":1,"date":8,"treated":0},{"city":1,"date":9,"treated":0},{"city":1,"date":10,"treated":0},{"city":1,"date":11,"treated":0},{"city":1,"date":12,"treated":0},{"city":1,"date":13,"treated":0},{"city":1,"date":14,"treated":0},{"city":1,"date":15,"treated":0},{"city":1,"date":16,"treated":0},{"city":1,"date":17,"treated":0},{"city":1,"date":18,"treated":0},{"city":1,"date":19,"treated":0},{"city":1,"date":20,"treated":0},{"city":1,"date":21,"treated":0},{"city":1,"date":22,"treated":0},{"city":1,"date":23,"treated":0},{"city":1,"date":24,"treated":0},{"city":1,"date":25,"treated":0},{"city":1,"date":26,"treated":0},{"city":1,"date":27,"treated":0},{"city":1,"date":28,"treated":0},{"city":1,"date":29,"treated":0},{"city":1,"date":30,"treated":0},{"city":1,"date":31,"treated":0},
{"city":40,"date":0,"treated":0},{"city":40,"date":1,"treated":0},{"city":40,"date":2,"treated":0},{"city":40,"date":3,"treated":0},{"city":40,"date":4,"treated":0},{"city":40,"date":5,"treated":0},{"city":40,"date":6,"treated":0},{"city":40,"date":7,"treated":0},{"city":40,"date":8,"treated":0},{"city":40,"date":9,"treated":0},{"city":40,"date":10,"treated":0},{"city":40,"date":11,"treated":0},{"city":40,"date":12,"treated":0},{"city":40,"date":13,"treated":0},{"city":40,"date":14,"treated":0},{"city":40,"date":15,"treated":0},{"city":40,"date":16,"treated":0},{"city":40,"date":17,"treated":0},{"city":40,"date":18,"treated":0},{"city":40,"date":19,"treated":0},{"city":40,"date":20,"treated":0},{"city":40,"date":21,"treated":0},{"city":40,"date":22,"treated":0},{"city":40,"date":23,"treated":0},{"city":40,"date":24,"treated":0},{"city":40,"date":25,"treated":0},{"city":40,"date":26,"treated":0},{"city":40,"date":27,"treated":0},{"city":40,"date":28,"treated":0},{"city":40,"date":29,"treated":0},{"city":40,"date":30,"treated":0},{"city":40,"date":31,"treated":0},
{"city":42,"date":0,"treated":0},{"city":42,"date":1,"treated":0},{"city":42,"date":2,"treated":0},{"city":42,"date":3,"treated":0},{"city":42,"date":4,"treated":0},{"city":42,"date":5,"treated":0},{"city":42,"date":6,"treated":0},{"city":42,"date":7,"treated":0},{"city":42,"date":8,"treated":0},{"city":42,"date":9,"treated":0},{"city":42,"date":10,"treated":0},{"city":42,"date":11,"treated":0},{"city":42,"date":12,"treated":0},{"city":42,"date":13,"treated":0},{"city":42,"date":14,"treated":0},{"city":42,"date":15,"treated":0},{"city":42,"date":16,"treated":0},{"city":42,"date":17,"treated":0},{"city":42,"date":18,"treated":0},{"city":42,"date":19,"treated":0},{"city":42,"date":20,"treated":0},{"city":42,"date":21,"treated":0},{"city":42,"date":22,"treated":0},{"city":42,"date":23,"treated":0},{"city":42,"date":24,"treated":0},{"city":42,"date":25,"treated":0},{"city":42,"date":26,"treated":0},{"city":42,"date":27,"treated":0},{"city":42,"date":28,"treated":0},{"city":42,"date":29,"treated":0},{"city":42,"date":30,"treated":0},{"city":42,"date":31,"treated":0},
{"city":43,"date":0,"treated":0},{"city":43,"date":1,"treated":0},{"city":43,"date":2,"treated":0},{"city":43,"date":3,"treated":0},{"city":43,"date":4,"treated":0},{"city":43,"date":5,"treated":0},{"city":43,"date":6,"treated":0},{"city":43,"date":7,"treated":0},{"city":43,"date":8,"treated":0},{"city":43,"date":9,"treated":0},{"city":43,"date":10,"treated":0},{"city":43,"date":11,"treated":0},{"city":43,"date":12,"treated":0},{"city":43,"date":13,"treated":0},{"city":43,"date":14,"treated":0},{"city":43,"date":15,"treated":0},{"city":43,"date":16,"treated":0},{"city":43,"date":17,"treated":0},{"city":43,"date":18,"treated":0},{"city":43,"date":19,"treated":0},{"city":43,"date":20,"treated":0},{"city":43,"date":21,"treated":0},{"city":43,"date":22,"treated":0},{"city":43,"date":23,"treated":0},{"city":43,"date":24,"treated":0},{"city":43,"date":25,"treated":0},{"city":43,"date":26,"treated":0},{"city":43,"date":27,"treated":0},{"city":43,"date":28,"treated":0},{"city":43,"date":29,"treated":0},{"city":43,"date":30,"treated":0},{"city":43,"date":31,"treated":0},
{"city":17,"date":0,"treated":0},{"city":17,"date":1,"treated":0},{"city":17,"date":2,"treated":0},{"city":17,"date":3,"treated":0},{"city":17,"date":4,"treated":0},{"city":17,"date":5,"treated":0},{"city":17,"date":6,"treated":0},{"city":17,"date":7,"treated":0},{"city":17,"date":8,"treated":0},{"city":17,"date":9,"treated":0},{"city":17,"date":10,"treated":0},{"city":17,"date":11,"treated":0},{"city":17,"date":12,"treated":0},{"city":17,"date":13,"treated":0},{"city":17,"date":14,"treated":0},{"city":17,"date":15,"treated":0},{"city":17,"date":16,"treated":0},{"city":17,"date":17,"treated":0},{"city":17,"date":18,"treated":0},{"city":17,"date":19,"treated":0},{"city":17,"date":20,"treated":0},{"city":17,"date":21,"treated":0},{"city":17,"date":22,"treated":0},{"city":17,"date":23,"treated":0},{"city":17,"date":24,"treated":0},{"city":17,"date":25,"treated":0},{"city":17,"date":26,"treated":0},{"city":17,"date":27,"treated":0},{"city":17,"date":28,"treated":0},{"city":17,"date":29,"treated":0},{"city":17,"date":30,"treated":0},{"city":17,"date":31,"treated":0},
{"city":44,"date":0,"treated":0},{"city":44,"date":1,"treated":0},{"city":44,"date":2,"treated":0},{"city":44,"date":3,"treated":0},{"city":44,"date":4,"treated":0},{"city":44,"date":5,"treated":0},{"city":44,"date":6,"treated":0},{"city":44,"date":7,"treated":0},{"city":44,"date":8,"treated":0},{"city":44,"date":9,"treated":0},{"city":44,"date":10,"treated":0},{"city":44,"date":11,"treated":0},{"city":44,"date":12,"treated":0},{"city":44,"date":13,"treated":0},{"city":44,"date":14,"treated":0},{"city":44,"date":15,"treated":0},{"city":44,"date":16,"treated":0},{"city":44,"date":17,"treated":0},{"city":44,"date":18,"treated":0},{"city":44,"date":19,"treated":0},{"city":44,"date":20,"treated":0},{"city":44,"date":21,"treated":0},{"city":44,"date":22,"treated":0},{"city":44,"date":23,"treated":0},{"city":44,"date":24,"treated":0},{"city":44,"date":25,"treated":0},{"city":44,"date":26,"treated":0},{"city":44,"date":27,"treated":0},{"city":44,"date":28,"treated":0},{"city":44,"date":29,"treated":0},{"city":44,"date":30,"treated":0},{"city":44,"date":31,"treated":0},
{"city":45,"date":0,"treated":0},{"city":45,"date":1,"treated":0},{"city":45,"date":2,"treated":0},{"city":45,"date":3,"treated":0},{"city":45,"date":4,"treated":0},{"city":45,"date":5,"treated":0},{"city":45,"date":6,"treated":0},{"city":45,"date":7,"treated":0},{"city":45,"date":8,"treated":0},{"city":45,"date":9,"treated":0},{"city":45,"date":10,"treated":0},{"city":45,"date":11,"treated":0},{"city":45,"date":12,"treated":0},{"city":45,"date":13,"treated":0},{"city":45,"date":14,"treated":0},{"city":45,"date":15,"treated":0},{"city":45,"date":16,"treated":0},{"city":45,"date":17,"treated":0},{"city":45,"date":18,"treated":0},{"city":45,"date":19,"treated":0},{"city":45,"date":20,"treated":0},{"city":45,"date":21,"treated":0},{"city":45,"date":22,"treated":0},{"city":45,"date":23,"treated":0},{"city":45,"date":24,"treated":0},{"city":45,"date":25,"treated":0},{"city":45,"date":26,"treated":0},{"city":45,"date":27,"treated":0},{"city":45,"date":28,"treated":0},{"city":45,"date":29,"treated":0},{"city":45,"date":30,"treated":0},{"city":45,"date":31,"treated":0},
{"city":46,"date":0,"treated":0},{"city":46,"date":1,"treated":0},{"city":46,"date":2,"treated":0},{"city":46,"date":3,"treated":0},{"city":46,"date":4,"treated":0},{"city":46,"date":5,"treated":0},{"city":46,"date":6,"treated":0},{"city":46,"date":7,"treated":0},{"city":46,"date":8,"treated":0},{"city":46,"date":9,"treated":0},{"city":46,"date":10,"treated":0},{"city":46,"date":11,"treated":0},{"city":46,"date":12,"treated":0},{"city":46,"date":13,"treated":0},{"city":46,"date":14,"treated":0},{"city":46,"date":15,"treated":0},{"city":46,"date":16,"treated":0},{"city":46,"date":17,"treated":0},{"city":46,"date":18,"treated":0},{"city":46,"date":19,"treated":0},{"city":46,"date":20,"treated":0},{"city":46,"date":21,"treated":0},{"city":46,"date":22,"treated":0},{"city":46,"date":23,"treated":0},{"city":46,"date":24,"treated":0},{"city":46,"date":25,"treated":0},{"city":46,"date":26,"treated":0},{"city":46,"date":27,"treated":0},{"city":46,"date":28,"treated":0},{"city":46,"date":29,"treated":0},{"city":46,"date":30,"treated":0},{"city":46,"date":31,"treated":0},
{"city":22,"date":0,"treated":0},{"city":22,"date":1,"treated":0},{"city":22,"date":2,"treated":0},{"city":22,"date":3,"treated":0},{"city":22,"date":4,"treated":0},{"city":22,"date":5,"treated":0},{"city":22,"date":6,"treated":0},{"city":22,"date":7,"treated":0},{"city":22,"date":8,"treated":0},{"city":22,"date":9,"treated":0},{"city":22,"date":10,"treated":0},{"city":22,"date":11,"treated":0},{"city":22,"date":12,"treated":0},{"city":22,"date":13,"treated":0},{"city":22,"date":14,"treated":0},{"city":22,"date":15,"treated":0},{"city":22,"date":16,"treated":0},{"city":22,"date":17,"treated":0},{"city":22,"date":18,"treated":0},{"city":22,"date":19,"treated":0},{"city":22,"date":20,"treated":0},{"city":22,"date":21,"treated":0},{"city":22,"date":22,"treated":0},{"city":22,"date":23,"treated":0},{"city":22,"date":24,"treated":0},{"city":22,"date":25,"treated":0},{"city":22,"date":26,"treated":0},{"city":22,"date":27,"treated":0},{"city":22,"date":28,"treated":0},{"city":22,"date":29,"treated":0},{"city":22,"date":30,"treated":0},{"city":22,"date":31,"treated":0},
{"city":48,"date":0,"treated":0},{"city":48,"date":1,"treated":0},{"city":48,"date":2,"treated":0},{"city":48,"date":3,"treated":0},{"city":48,"date":4,"treated":0},{"city":48,"date":5,"treated":0},{"city":48,"date":6,"treated":0},{"city":48,"date":7,"treated":0},{"city":48,"date":8,"treated":0},{"city":48,"date":9,"treated":0},{"city":48,"date":10,"treated":0},{"city":48,"date":11,"treated":0},{"city":48,"date":12,"treated":0},{"city":48,"date":13,"treated":0},{"city":48,"date":14,"treated":0},{"city":48,"date":15,"treated":0},{"city":48,"date":16,"treated":0},{"city":48,"date":17,"treated":0},{"city":48,"date":18,"treated":0},{"city":48,"date":19,"treated":0},{"city":48,"date":20,"treated":0},{"city":48,"date":21,"treated":0},{"city":48,"date":22,"treated":0},{"city":48,"date":23,"treated":0},{"city":48,"date":24,"treated":0},{"city":48,"date":25,"treated":0},{"city":48,"date":26,"treated":0},{"city":48,"date":27,"treated":0},{"city":48,"date":28,"treated":0},{"city":48,"date":29,"treated":0},{"city":48,"date":30,"treated":0},{"city":48,"date":31,"treated":0},
{"city":49,"date":0,"treated":0},{"city":49,"date":1,"treated":0},{"city":49,"date":2,"treated":0},{"city":49,"date":3,"treated":0},{"city":49,"date":4,"treated":0},{"city":49,"date":5,"treated":0},{"city":49,"date":6,"treated":0},{"city":49,"date":7,"treated":0},{"city":49,"date":8,"treated":0},{"city":49,"date":9,"treated":0},{"city":49,"date":10,"treated":0},{"city":49,"date":11,"treated":0},{"city":49,"date":12,"treated":0},{"city":49,"date":13,"treated":0},{"city":49,"date":14,"treated":0},{"city":49,"date":15,"treated":0},{"city":49,"date":16,"treated":0},{"city":49,"date":17,"treated":0},{"city":49,"date":18,"treated":0},{"city":49,"date":19,"treated":0},{"city":49,"date":20,"treated":0},{"city":49,"date":21,"treated":0},{"city":49,"date":22,"treated":0},{"city":49,"date":23,"treated":0},{"city":49,"date":24,"treated":0},{"city":49,"date":25,"treated":0},{"city":49,"date":26,"treated":0},{"city":49,"date":27,"treated":0},{"city":49,"date":28,"treated":0},{"city":49,"date":29,"treated":0},{"city":49,"date":30,"treated":0},{"city":49,"date":31,"treated":0}
]},"mark":{"type":"rect","stroke":"#666666","strokeWidth":2.5},"encoding":{"x":{"field":"date","type":"ordinal","scale":{"paddingInner":0,"paddingOuter":0},"axis":{"values":[0,2,4,6,8,10,12,14,16,18,20,22,24,26,28,30],"labels":false,"domain":false,"grid":false,"ticks":true,"tickSize":6,"tickColor":"#000000","tickWidth":1.2,"title":"date","titleFont":"DejaVu Sans","titleFontSize":31,"titleFontWeight":"normal","titleColor":"#000000","titleX":444,"titleY":39,"titleAlign":"center","titleBaseline":"alphabetic"}},"y":{"field":"city","type":"nominal","sort":null,"scale":{"paddingInner":0,"paddingOuter":0},"axis":{"values":[50,30,6,47,34,37,41,27,4,9,1,17,22],"domain":false,"grid":false,"ticks":true,"tickSize":6,"tickColor":"#000000","tickWidth":1.2,"labelAngle":270,"labelAlign":"center","labelBaseline":"alphabetic","labelFont":"DejaVu Sans","labelFontSize":28,"labelColor":"#000000","labelPadding":14,"labelOffset":3,"labelOverlap":false,"labelBound":false,"labelFlush":false,"title":"city","titleFont":"DejaVu Sans","titleFontSize":31,"titleFontWeight":"normal","titleColor":"#000000","titleAngle":270,"titleX":-60,"titleY":263,"titleAlign":"center","titleBaseline":"alphabetic"}},"color":{"field":"treated","type":"nominal","scale":{"domain":[0,1],"range":["#000000","#ffffff"]},"legend":null}}}
